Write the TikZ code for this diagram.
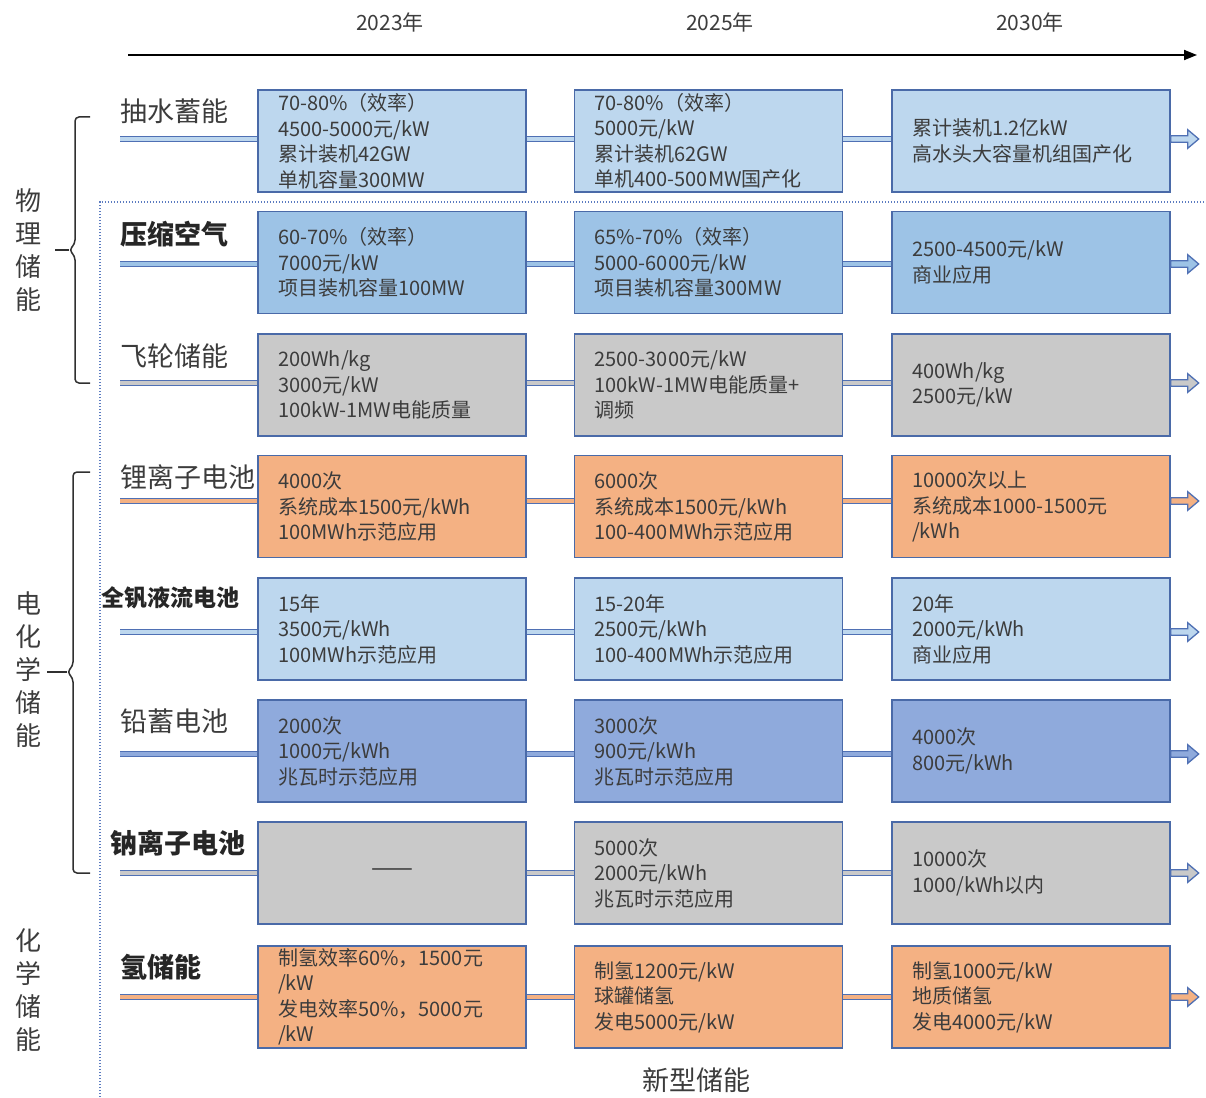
\documentclass[tikz,border=0pt]{standalone}
\usepackage{fontspec}
\setmainfont{Noto Sans CJK SC}
\usetikzlibrary{arrows.meta,calc}
\definecolor{lb}{HTML}{BDD7EE}
\definecolor{mb}{HTML}{9DC3E6}
\definecolor{gr}{HTML}{C9C9C9}
\definecolor{og}{HTML}{F4B183}
\definecolor{db}{HTML}{8FAADC}
\definecolor{boxline}{HTML}{4A6AA8}
\definecolor{stripline}{HTML}{4F70B4}
\definecolor{txt}{HTML}{3C3C3C}
\definecolor{dotc}{HTML}{5B7BC0}
\definecolor{bracec}{HTML}{303030}
\begin{document}
\begin{tikzpicture}[x=1pt,y=-1pt,
  box/.style={draw=boxline, line width=1.4, minimum height=102, inner xsep=20, inner ysep=0,
    text width=228, align=left, font=\fontsize{20}{25.5}\selectfont, text=txt},
  boxw/.style={box, text width=238},
  lbl/.style={anchor=west, font=\fontsize{27}{30}\selectfont, text=txt, inner sep=0},
  blbl/.style={lbl, font=\fontsize{27}{30}\selectfont\bfseries, text=black!85},
  vtxt/.style={align=center, font=\fontsize{26}{33}\selectfont, text=txt, inner sep=0},
  yr/.style={font=\fontsize{21}{24}\selectfont, text=txt, inner sep=0},
  strip/.style={draw=stripline, line width=1.3, double distance=4},
]
\useasboundingbox (0,0) rectangle (1206,1097);

% year axis
\node[yr] (y1) at (390,22) {2023年};
\node[yr] (y2) at (720,22) {2025年};
\node[yr] (y3) at (1030,22) {2030年};
\coordinate (ta) at (128,55);
\coordinate (tb) at (1197,55);
\draw[line width=1.8, -{Triangle[length=13,width=10]}] (ta) -- (tb);

% dotted frame
\coordinate (d1) at (100,1097);
\coordinate (d2) at (100,202);
\coordinate (d3) at (1206,202);
\draw[dotc, line width=1.3, dash pattern=on 1.3pt off 1.7pt] (d1) -- (d2) -- (d3);

% row labels
\node[lbl]  (l1) at (120,111) {抽水蓄能};
\node[blbl] (l2) at (120,234) {压缩空气};
\node[lbl]  (l3) at (120,356) {飞轮储能};
\node[lbl]  (l4) at (120,477) {锂离子电池};
\node[blbl, font=\fontsize{23}{26}\selectfont\bfseries] (l5) at (101,598) {全钒液流电池};
\node[lbl]  (l6) at (120,721) {铅蓄电池};
\node[blbl] (l7) at (110,843) {钠离子电池};
\node[blbl] (l8) at (120,967) {氢储能};

% category labels
\node[vtxt] (w1) at (28,250) {物\\理\\储\\能};
\node[vtxt] (w2) at (28,670) {电\\化\\学\\储\\能};
\node[vtxt] (w3) at (28,990) {化\\学\\储\\能};

% braces
\draw[bracec, line width=1.5, rounded corners=4] (90,117) -- (75,117) -- (75,244) -- (69,250) -- (75,256) -- (75,383) -- (90,383);
\draw[bracec, line width=1.5] (55,250) -- (69,250);
\draw[bracec, line width=1.5, rounded corners=4] (90,472) -- (73,472) -- (73,666) -- (67,672) -- (73,678) -- (73,873) -- (90,873);
\draw[bracec, line width=1.5] (47,672) -- (67,672);

% boxes row 1
\node[box, fill=lb] (r1-1) at (392,141) {70-80\%（效率）\\4500-5000元/kW\\累计装机42GW\\单机容量300MW};
\node[box, fill=lb] (r1-2) at (708.5,141) {70-80\%（效率）\\5000元/kW\\累计装机62GW\\单机400-500MW国产化};
\node[boxw, fill=lb] (r1-3) at (1031,141) {累计装机1.2亿kW\\高水头大容量机组国产化};
% row 2
\node[box, fill=mb] (r2-1) at (392,262.5) {60-70\%（效率）\\7000元/kW\\项目装机容量100MW};
\node[box, fill=mb] (r2-2) at (708.5,262.5) {65\%-70\%（效率）\\5000-6000元/kW\\项目装机容量300MW};
\node[boxw, fill=mb] (r2-3) at (1031,262.5) {2500-4500元/kW\\商业应用};
% row 3
\node[box, fill=gr] (r3-1) at (392,385) {200Wh/kg\\3000元/kW\\100kW-1MW电能质量};
\node[box, fill=gr] (r3-2) at (708.5,385) {2500-3000元/kW\\100kW-1MW电能质量+\\调频};
\node[boxw, fill=gr] (r3-3) at (1031,385) {400Wh/kg\\2500元/kW};
% row 4
\node[box, fill=og] (r4-1) at (392,506.5) {4000次\\系统成本1500元/kWh\\100MWh示范应用};
\node[box, fill=og] (r4-2) at (708.5,506.5) {6000次\\系统成本1500元/kWh\\100-400MWh示范应用};
\node[boxw, fill=og] (r4-3) at (1031,506.5) {10000次以上\\系统成本1000-1500元\\/kWh};
% row 5
\node[box, fill=lb] (r5-1) at (392,629) {15年\\3500元/kWh\\100MWh示范应用};
\node[box, fill=lb] (r5-2) at (708.5,629) {15-20年\\2500元/kWh\\100-400MWh示范应用};
\node[boxw, fill=lb] (r5-3) at (1031,629) {20年\\2000元/kWh\\商业应用};
% row 6
\node[box, fill=db] (r6-1) at (392,751) {2000次\\1000元/kWh\\兆瓦时示范应用};
\node[box, fill=db] (r6-2) at (708.5,751) {3000次\\900元/kWh\\兆瓦时示范应用};
\node[boxw, fill=db] (r6-3) at (1031,751) {4000次\\800元/kWh};
% row 7
\node[box, fill=gr, align=center, font=\fontsize{25}{25.5}\selectfont] (r7-1) at (392,873) {——};
\node[box, fill=gr] (r7-2) at (708.5,873) {5000次\\2000元/kWh\\兆瓦时示范应用};
\node[boxw, fill=gr] (r7-3) at (1031,873) {10000次\\1000/kWh以内};
% row 8
\node[box, fill=og] (r8-1) at (392,997) {制氢效率60\%，1500元\\/kW\\发电效率50\%，5000元\\/kW};
\node[box, fill=og] (r8-2) at (708.5,997) {制氢1200元/kW\\球罐储氢\\发电5000元/kW};
\node[boxw, fill=og] (r8-3) at (1031,997) {制氢1000元/kW\\地质储氢\\发电4000元/kW};

\node[font=\fontsize{27}{30}\selectfont, text=txt, inner sep=0] (xx) at (696,1080) {新型储能};

% strips and arrows
\foreach \i/\c/\y in {1/lb/139,2/mb/264,3/gr/383,4/og/501,5/lb/632,6/db/754,7/gr/873,8/og/997}{
  \coordinate (s\i) at (120,\y);
  \draw[strip, double=\c] (s\i) -- (r\i-1.west |- s\i);
  \draw[strip, double=\c] (r\i-1.east |- s\i) -- (r\i-2.west |- s\i);
  \draw[strip, double=\c] (r\i-2.east |- s\i) -- (r\i-3.west |- s\i);
  \draw[draw=stripline, line width=1.3, fill=\c] (r\i-3.east |- s\i) ++(0,-3.3) -- ++(17,0) -- ++(0,-6) -- ++(11,9.3) -- ++(-11,9.3) -- ++(0,-6) -- ++(-17,0) -- cycle;
}
\end{tikzpicture}
\end{document}
